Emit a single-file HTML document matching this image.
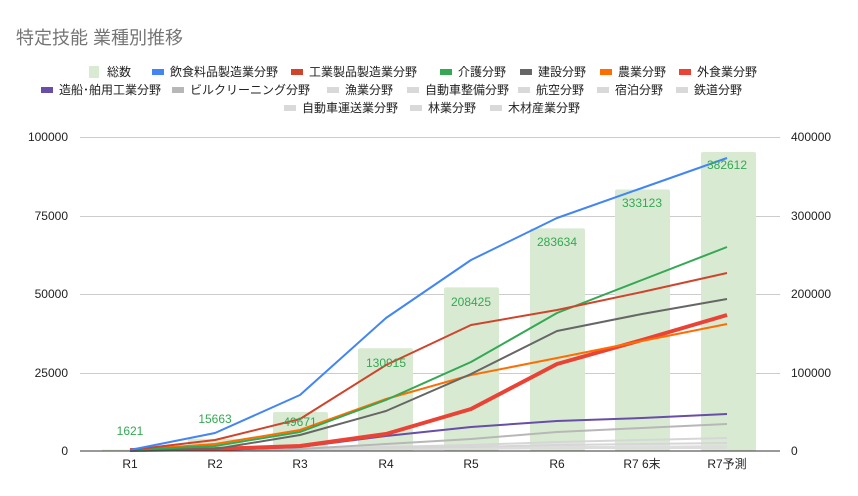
<!DOCTYPE html>
<html><head><meta charset="utf-8"><style>
body{margin:0;background:#fff;}
svg{display:block;font-family:"Liberation Sans","Noto Sans CJK JP",sans-serif;}
</style></head><body>
<svg width="858" height="496" viewBox="0 0 858 496" xmlns="http://www.w3.org/2000/svg">
<rect width="858" height="496" fill="#fff"/>
<text x="16" y="44" font-size="18" fill="#757575">特定技能 業種別推移</text>
<g font-size="12" fill="#222">
<rect x="89" y="66" width="10" height="12" fill="#d9ead3"/><text x="107" y="76">総数</text>
<rect x="152" y="69" width="12" height="6" fill="#4285f4"/><text x="170" y="76">飲食料品製造業分野</text>
<rect x="291" y="69" width="12" height="6" fill="#d0442b"/><text x="309" y="76">工業製品製造業分野</text>
<rect x="440" y="69" width="12" height="6" fill="#34a853"/><text x="458" y="76">介護分野</text>
<rect x="520" y="69" width="12" height="6" fill="#666"/><text x="538" y="76">建設分野</text>
<rect x="600" y="69" width="12" height="6" fill="#ff6d01"/><text x="618" y="76">農業分野</text>
<rect x="679" y="69" width="12" height="6" fill="#ea4335"/><text x="697" y="76">外食業分野</text>
<rect x="41" y="87" width="12" height="6" fill="#674ea7"/><text x="59" y="94">造船･舶用工業分野</text>
<rect x="172" y="87" width="12" height="6" fill="#b7b7b7"/><text x="190" y="94">ビルクリーニング分野</text>
<rect x="327" y="87" width="12" height="6" fill="#d9d9d9"/><text x="345" y="94">漁業分野</text>
<rect x="407" y="87" width="12" height="6" fill="#d9d9d9"/><text x="425" y="94">自動車整備分野</text>
<rect x="518" y="87" width="12" height="6" fill="#d9d9d9"/><text x="536" y="94">航空分野</text>
<rect x="597" y="87" width="12" height="6" fill="#d9d9d9"/><text x="615" y="94">宿泊分野</text>
<rect x="676" y="87" width="12" height="6" fill="#d9d9d9"/><text x="694" y="94">鉄道分野</text>
<rect x="284" y="105" width="12" height="6" fill="#d9d9d9"/><text x="302" y="112">自動車運送業分野</text>
<rect x="410" y="105" width="12" height="6" fill="#d9d9d9"/><text x="428" y="112">林業分野</text>
<rect x="490" y="105" width="12" height="6" fill="#d9d9d9"/><text x="508" y="112">木材産業分野</text>
</g>
<g stroke="#ccc" stroke-width="1">
<line x1="80" y1="137.5" x2="780" y2="137.5"/><line x1="80" y1="216.5" x2="780" y2="216.5"/>
<line x1="80" y1="294.5" x2="780" y2="294.5"/><line x1="80" y1="373.5" x2="780" y2="373.5"/>
</g>
<g fill="#d9ead3">
<rect x="102" y="449.7" width="55" height="1.3"/>
<rect x="188" y="438.7" width="55" height="12.3" rx="2"/>
<rect x="273" y="412" width="55" height="39" rx="2"/>
<rect x="358" y="348.2" width="55" height="102.8" rx="2"/>
<rect x="444" y="287.4" width="55" height="163.6" rx="2"/>
<rect x="530" y="228.4" width="55" height="222.6" rx="2"/>
<rect x="615" y="189.5" width="55" height="261.5" rx="2"/>
<rect x="701" y="152" width="55" height="299" rx="2"/>
</g>
<g fill="none" stroke-linejoin="round">
<polyline stroke="#ddd" stroke-width="2" points="130,450 215,450 300,450 386,449 471,449 557,448 642,448 727,448"/>
<polyline stroke="#ddd" stroke-width="2" points="130,450 215,450 300,450 386,449 471,448 557,447 642,447 727,446"/>
<polyline stroke="#d6d6d6" stroke-width="2" points="130,450 215,450 300,449 386,448 471,447 557,445 642,444 727,443"/>
<polyline stroke="#d6d6d6" stroke-width="2" points="130,450 215,450 300,449 386,447 471,445 557,442 642,440 727,438"/>
<polyline stroke="#b7b7b7" stroke-width="2" points="130,450 215,450 300,449 386,444 471,439 557,432 642,428 727,424"/>
<polyline stroke="#674ea7" stroke-width="2" points="130,450 215,450 300,447 386,436 471,427 557,421 642,418 727,414"/>
<polyline stroke="#ea4335" stroke-width="4" points="130,450 215,449 300,446 386,434 471,409 557,364 642,340 727,315"/>
<polyline stroke="#ff6d01" stroke-width="2" points="130,450 215,444 300,430 386,399 471,375 557,358 642,341 727,324"/>
<polyline stroke="#666" stroke-width="2" points="130,450 215,449 300,435 386,411 471,374 557,331 642,314 727,299"/>
<polyline stroke="#34a853" stroke-width="2" points="130,450 215,446 300,432 386,400 471,362 557,313 642,280 727,247"/>
<polyline stroke="#d0442b" stroke-width="2" points="130,450 215,440 300,419 386,365 471,325 557,310 642,292 727,273"/>
<polyline stroke="#4285f4" stroke-width="2" points="130,450 215,433 300,395 386,318 471,260 557,218 642,188 727,158"/>
</g>
<line x1="80" y1="451" x2="780" y2="451" stroke="#333" stroke-width="1"/>
<g font-size="12" fill="#34a853" text-anchor="middle">
<text x="130" y="435">1621</text><text x="215" y="423">15663</text><text x="300" y="426">49671</text>
<text x="386" y="367">130915</text><text x="471" y="306">208425</text><text x="557" y="246">283634</text>
<text x="642" y="207">333123</text><text x="727" y="169">382612</text>
</g>
<g font-size="12" fill="#222" text-anchor="end">
<text x="68" y="141">100000</text><text x="68" y="220">75000</text><text x="68" y="298">50000</text>
<text x="68" y="377">25000</text><text x="68" y="455">0</text>
</g>
<g font-size="12" fill="#222">
<text x="791" y="141">400000</text><text x="791" y="220">300000</text><text x="791" y="298">200000</text>
<text x="791" y="377">100000</text><text x="791" y="455">0</text>
</g>
<g font-size="12" fill="#222" text-anchor="middle">
<text x="130" y="468">R1</text><text x="215" y="468">R2</text><text x="300" y="468">R3</text>
<text x="386" y="468">R4</text><text x="471" y="468">R5</text><text x="557" y="468">R6</text>
<text x="642" y="468">R7 6末</text><text x="727" y="468">R7予測</text>
</g>
</svg>
</body></html>
